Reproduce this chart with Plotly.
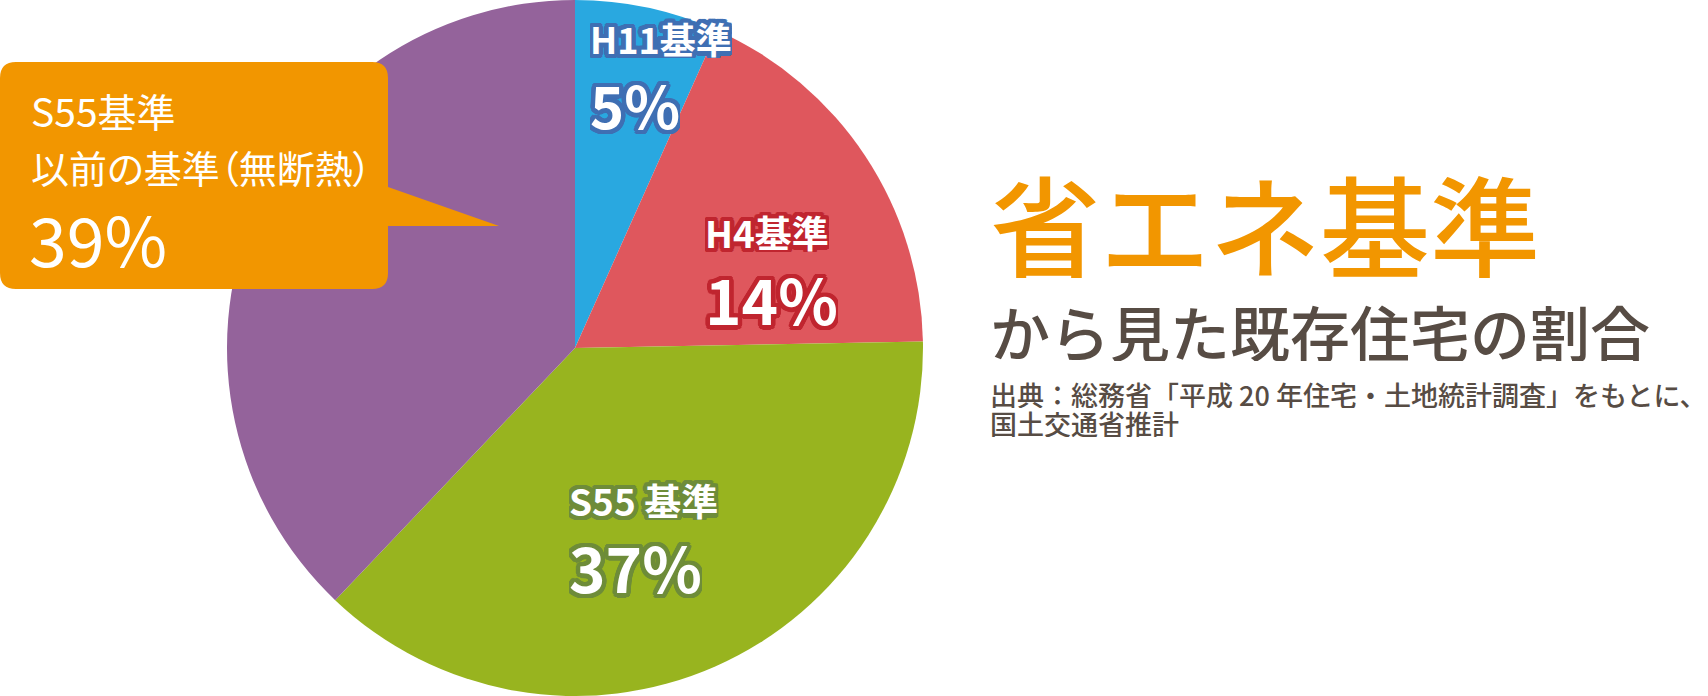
import math
import plotly.graph_objects as go

W, H = 1708, 696

# ---- data ----
categories = ["H11基準", "H4基準", "S55基準", "S55基準以前の基準（無断熱）"]
slice_values = [6.7, 18.0, 37.4, 37.9]          # angular share as drawn
label_percents = ["5%", "14%", "37%", "39%"]   # printed labels
slice_colors = ["#29A8E0", "#DF575D", "#98B41F", "#94639B"]

title_main = "省エネ基準"
title_sub = "から見た既存住宅の割合"
source_lines = ["出典：総務省「平成 20 年住宅・土地統計調査」をもとに、", "国土交通省推計"]

FONT = "Noto Sans CJK JP"


def px(x):
    return x / W


def py(y):
    return 1 - y / H


def stroke(color, r=4.5, n=20):
    parts = []
    for k in range(n):
        a = 2 * math.pi * k / n
        parts.append(f"{r*math.cos(a):.2f}px {r*math.sin(a):.2f}px 0 {color}")
    parts.append(f"0 0 1px {color}")
    return ", ".join(parts)


cx, cy, R = 575, 348, 348
fig = go.Figure(go.Pie(
    labels=categories,
    values=slice_values,
    marker=dict(colors=slice_colors, line=dict(width=0)),
    sort=False,
    direction="clockwise",
    rotation=0,
    textinfo="none",
    hoverinfo="label",
    showlegend=False,
    domain=dict(x=[px(cx - R), px(cx + R)], y=[0, 1]),
))

annotations = []


def add_text(text, x, y, size, color, weight=None, shadow=None, height=None):
    f = dict(family=FONT, size=size, color=color)
    if weight:
        f["weight"] = weight
    if shadow:
        f["shadow"] = shadow
    a = dict(
        text=text, x=px(x), y=py(y), xref="paper", yref="paper",
        xanchor="left", yanchor="middle", showarrow=False, font=f,
    )
    if height:
        a["height"] = height
    annotations.append(a)


# pie labels with outlined text
blue_s, red_s, green_s = stroke("#3F6FB3"), stroke("#C0252F"), stroke("#6E8C39")
add_text(categories[0], 588, 38, 36, "white", "bold", blue_s, height=40)
add_text(label_percents[0], 588, 104, 58, "white", "bold", blue_s, height=60)
add_text(categories[1], 703, 232, 37, "white", "bold", red_s, height=40)
add_text(label_percents[1], 703, 298, 62, "white", "bold", red_s, height=64)
add_text("S55 基準", 567, 500, 37, "white", "bold", green_s, height=40)
add_text(label_percents[2], 567, 566, 62, "white", "bold", green_s, height=64)

# callout
x0, y0, x1, y1, r = 0, 62, 388, 289, 16
tip_top, tip_bot, tip_x = 187, 226, 499
path = (
    f"M {px(x0 + r)},{py(y0)} L {px(x1 - r)},{py(y0)} "
    f"Q {px(x1)},{py(y0)} {px(x1)},{py(y0 + r)} "
    f"L {px(x1)},{py(tip_top)} L {px(tip_x)},{py(tip_bot)} L {px(x1)},{py(tip_bot)} "
    f"L {px(x1)},{py(y1 - r)} Q {px(x1)},{py(y1)} {px(x1 - r)},{py(y1)} "
    f"L {px(x0 + r)},{py(y1)} Q {px(x0)},{py(y1)} {px(x0)},{py(y1 - r)} "
    f"L {px(x0)},{py(y0 + r)} Q {px(x0)},{py(y0)} {px(x0 + r)},{py(y0)} Z"
)
shapes = [dict(type="path", path=path, xref="paper", yref="paper",
               fillcolor="#F29600", line=dict(width=0), layer="above")]

add_text("S55基準", 29, 110, 39, "white", height=44)
add_text("<span style=\"font-feature-settings:'palt'\">以前の基準（無断熱）</span>",
         29, 166, 38, "white", height=44)
add_text(label_percents[3], 27, 237, 68, "white", height=72)

# titles
add_text(title_main, 988, 222, 110, "#F29600", 500, height=112)
add_text(title_sub, 988, 330, 60, "#574C44", 500, height=62)
add_text(source_lines[0], 988, 394, 27, "#574C44", 500, height=28)
add_text(source_lines[1], 988, 423, 27, "#574C44", 500, height=28)

fig.update_layout(
    width=W, height=H,
    margin=dict(l=0, r=0, t=0, b=0),
    paper_bgcolor="white", plot_bgcolor="white",
    annotations=annotations, shapes=shapes,
)

fig.write_html("out.html", config={"displayModeBar": False},
               post_script="document.body.style.margin='0';")
